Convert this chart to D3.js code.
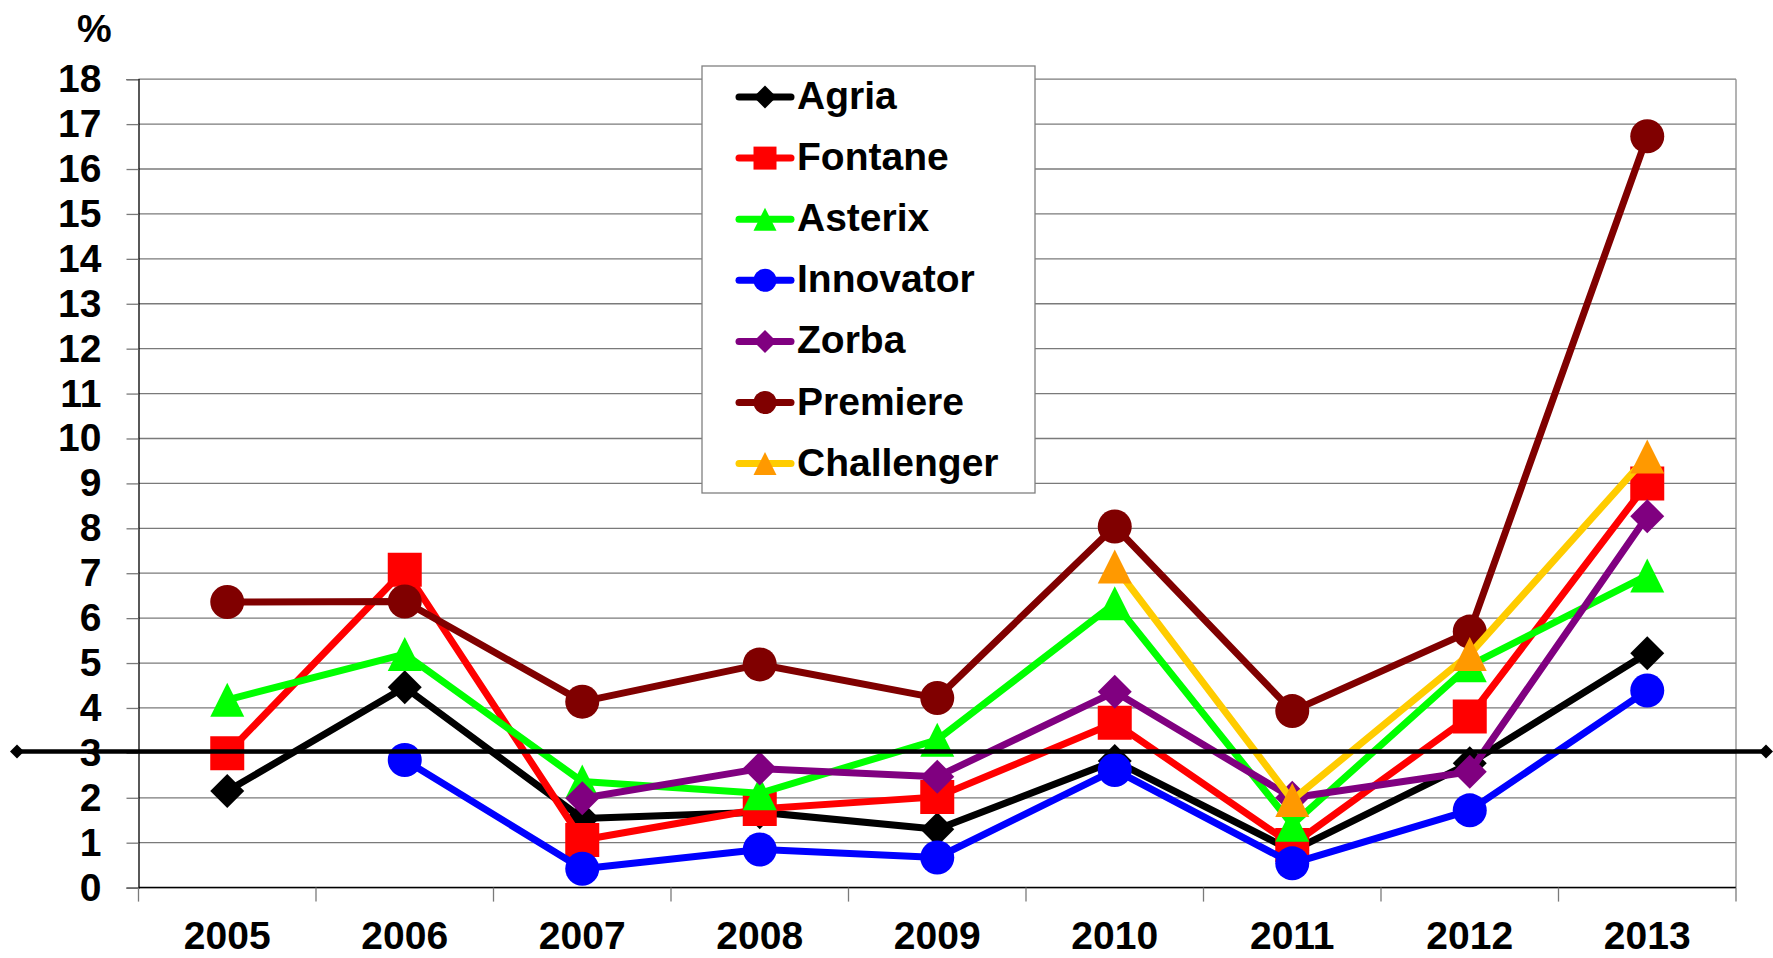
<!DOCTYPE html>
<html>
<head>
<meta charset="utf-8">
<script src="https://cdn.jsdelivr.net/npm/d3@7"></script>
<style>
  body { margin: 0; background: #fff; }
  text { font-family: "Liberation Sans", Arial, sans-serif; font-weight: bold; }
</style>
</head>
<body>
<div id="chart"></div>
<script>
// categories and values
var years = ["2005", "2006", "2007", "2008", "2009", "2010", "2011", "2012", "2013"];
var yTicks = d3.range(0, 19);

var agria      = [2.15, 4.46, 1.54, 1.68, 1.30, 2.82, 0.82, 2.77, 5.22];
var fontane    = [2.99, 7.08, 1.06, 1.75, 2.02, 3.67, 0.95, 3.81, 9.00];
var asterix    = [4.18, 5.20, 2.36, 2.10, 3.29, 6.33, 1.40, 4.95, 6.95];
var innovator  = [null, 2.84, 0.42, 0.85, 0.67, 2.62, 0.54, 1.72, 4.39];
var zorba      = [null, null, 1.99, 2.65, 2.47, 4.36, 2.00, 2.58, 8.27];
var premiere   = [6.36, 6.37, 4.14, 4.97, 4.22, 8.04, 3.93, 5.70, 16.73];
var challenger = [null, null, null, null, null, 7.15, 1.95, 5.20, 9.60];

var seriesNames = ["Agria", "Fontane", "Asterix", "Innovator", "Zorba", "Premiere", "Challenger"];
var seriesValues = [agria, fontane, asterix, innovator, zorba, premiere, challenger];

// reference level (thick black line)
var refValue = 3.03;

// styles
var lineColors   = ["#000000", "#ff0000", "#00ff00", "#0000ff", "#800080", "#800000", "#ffcc00"];
var markerColors = ["#000000", "#ff0000", "#00ff00", "#0000ff", "#800080", "#800000", "#ff9900"];
var shapes       = ["diamond", "square", "triangle", "circle", "diamond", "circle", "triangle"];

// set the dimensions and margins of the graph
var W = 1773, H = 958;
var margin = {top: 79.2, right: W - 1736, bottom: H - 887.6, left: 138.5},
    width = W - margin.left - margin.right,
    height = H - margin.top - margin.bottom;

var svg = d3.select("#chart")
  .append("svg")
    .attr("width", W)
    .attr("height", H);

var g = svg.append("g")
    .attr("transform", "translate(" + margin.left + "," + margin.top + ")");

var x = d3.scaleBand().domain(years).range([0, width]).padding(0);
var y = d3.scaleLinear().domain([0, 18]).range([height, 0]);

// gridlines
g.append("g")
  .selectAll("line")
  .data(yTicks)
  .enter().append("line")
    .attr("x1", 0).attr("x2", width)
    .attr("y1", function(d) { return y(d); })
    .attr("y2", function(d) { return y(d); })
    .attr("stroke", "#7a7a7a")
    .attr("stroke-width", 1.3);

// right border
g.append("line")
  .attr("x1", width).attr("x2", width)
  .attr("y1", 0).attr("y2", height)
  .attr("stroke", "#8a8a8a").attr("stroke-width", 1.3);

// Y axis
var yAxis = g.append("g")
  .call(d3.axisLeft(y).tickValues(yTicks).tickSize(12).tickPadding(25).tickFormat(d3.format("d")));
yAxis.select(".domain").attr("stroke", "#000").attr("stroke-width", 1.3);
yAxis.selectAll(".tick line").attr("stroke", "#7a7a7a").attr("stroke-width", 1.3);
yAxis.selectAll("text")
  .attr("font-size", 39)
  .attr("fill", "#000")
  .attr("font-family", "Liberation Sans, Arial, sans-serif")
  .attr("font-weight", "bold");

// X axis: bottom line, boundary ticks, labels at band centers
g.append("line")
  .attr("x1", 0).attr("x2", width)
  .attr("y1", height).attr("y2", height)
  .attr("stroke", "#000").attr("stroke-width", 1.5);

var bounds = years.map(function(d) { return x(d); }).concat([width]);
g.append("g")
  .selectAll("line")
  .data(bounds)
  .enter().append("line")
    .attr("x1", function(d) { return d; })
    .attr("x2", function(d) { return d; })
    .attr("y1", height).attr("y2", height + 14)
    .attr("stroke", "#7a7a7a").attr("stroke-width", 1.3);

g.append("g")
  .selectAll("text")
  .data(years)
  .enter().append("text")
    .attr("x", function(d) { return x(d) + x.bandwidth() / 2; })
    .attr("y", height + 61)
    .attr("text-anchor", "middle")
    .attr("font-size", 39)
    .text(function(d) { return d; });

// unit label
svg.append("text")
  .attr("x", 77)
  .attr("y", 42)
  .attr("font-size", 39)
  .text("%");

// marker shape paths (s = half size)
function shapePath(shape, s) {
  if (shape === "diamond") return "M0," + (-s) + "L" + s + ",0L0," + s + "L" + (-s) + ",0Z";
  if (shape === "square") return "M" + (-s) + "," + (-s) + "h" + 2 * s + "v" + 2 * s + "h" + (-2 * s) + "Z";
  if (shape === "triangle") return "M0," + (-s) + "L" + s + "," + s + "L" + (-s) + "," + s + "Z";
  return "M" + (-s) + ",0a" + s + "," + s + " 0 1,0 " + 2 * s + ",0a" + s + "," + s + " 0 1,0 " + (-2 * s) + ",0Z";
}

var line = d3.line()
  .defined(function(d) { return d.v != null; })
  .x(function(d) { return x(d.year) + x.bandwidth() / 2; })
  .y(function(d) { return y(d.v); });

// series: line then markers, in legend order
seriesValues.forEach(function(vals, i) {
  var pts = years.map(function(yr, j) { return {year: yr, v: vals[j]}; });
  var sg = g.append("g");
  sg.append("path")
    .datum(pts)
    .attr("d", line)
    .attr("fill", "none")
    .attr("stroke", lineColors[i])
    .attr("stroke-width", 7)
    .attr("stroke-linejoin", "round");
  sg.selectAll(".m")
    .data(pts.filter(function(d) { return d.v != null; }))
    .enter().append("path")
      .attr("transform", function(d) {
        return "translate(" + (x(d.year) + x.bandwidth() / 2) + "," + y(d.v) + ")";
      })
      .attr("d", shapePath(shapes[i], 17))
      .attr("fill", markerColors[i]);
});

// reference line across the whole chart, with small diamonds at the ends
var refX = [17 - margin.left, W - 7 - margin.left];
g.append("line")
  .attr("x1", refX[0]).attr("x2", refX[1])
  .attr("y1", y(refValue)).attr("y2", y(refValue))
  .attr("stroke", "#000").attr("stroke-width", 4.5);
g.selectAll(".refm")
  .data(refX)
  .enter().append("path")
    .attr("transform", function(d) { return "translate(" + d + "," + y(refValue) + ")"; })
    .attr("d", shapePath("diamond", 7))
    .attr("fill", "#000");

// legend
var legend = svg.append("g").attr("transform", "translate(702,66)");
legend.append("rect")
  .attr("width", 333).attr("height", 427)
  .attr("fill", "#fff")
  .attr("stroke", "#808080").attr("stroke-width", 1.3);

var items = legend.selectAll(".item")
  .data(seriesNames)
  .enter().append("g")
    .attr("transform", function(d, i) { return "translate(0," + (31 + i * 61.1) + ")"; });

items.append("line")
  .attr("x1", 37).attr("x2", 89)
  .attr("stroke", function(d, i) { return lineColors[i]; })
  .attr("stroke-width", 7)
  .attr("stroke-linecap", "round");
items.append("path")
  .attr("transform", "translate(63,0)")
  .attr("d", function(d, i) { return shapePath(shapes[i], 11.5); })
  .attr("fill", function(d, i) { return markerColors[i]; });
items.append("text")
  .attr("x", 95)
  .attr("y", 12)
  .attr("font-size", 39)
  .text(function(d) { return d; });
</script>
</body>
</html>
